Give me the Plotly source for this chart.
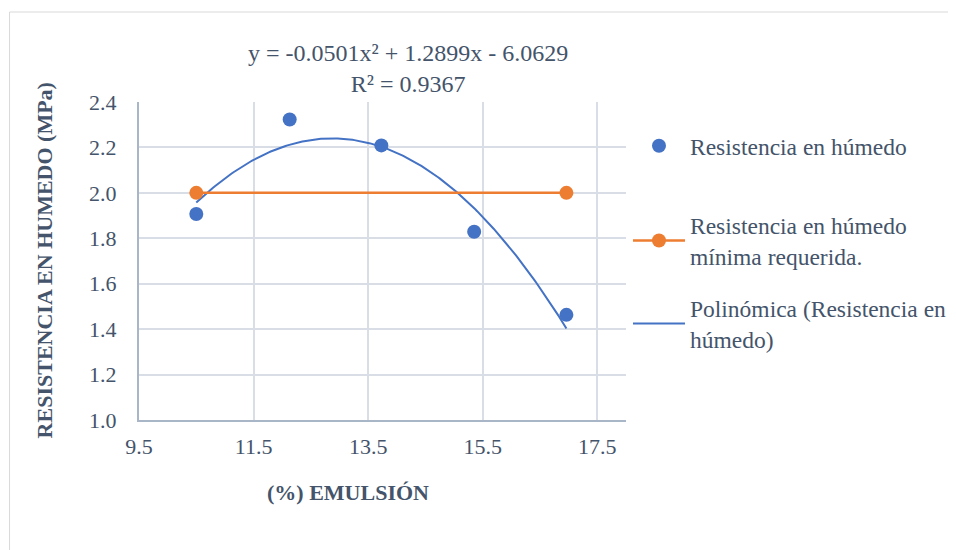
import numpy as np
import plotly.graph_objects as go

# ---- data ----
emulsion = [10.5, 12.13, 13.73, 15.35, 16.96]
resistencia = [1.907, 2.323, 2.209, 1.829, 1.463]
req_x = [10.5, 16.96]
req_y = [2.0, 2.0]
poly_coef = [-0.0501, 1.2899, -6.0629]  # displayed trendline coefficients
x_ticks = [9.5, 11.5, 13.5, 15.5, 17.5]
y_ticks = [1.0, 1.2, 1.4, 1.6, 1.8, 2.0, 2.2, 2.4]

BLUE = "#4472C4"
ORANGE = "#ED7D31"
TXT = "#44546A"
FONT = "Liberation Serif"

OFF = 8  # page body margin
W, H = 956, 550
L, T = 139 - OFF, 102 - OFF
R = W - (628 - OFF)
B = H - (420 - OFF)
pw, ph = W - L - R, H - T - B

def px(xp):
    return (xp - OFF - L) / pw

def py(yp):
    return (H - B - (yp - OFF)) / ph

xs = np.linspace(emulsion[0], emulsion[-1], 200)
ys = np.polyval(poly_coef, xs)

fig = go.Figure()
fig.add_trace(go.Scatter(x=xs, y=ys, mode="lines", line=dict(color=BLUE, width=2),
                         name="Polinómica (Resistencia en<br>húmedo)", legend="legend3"))
fig.add_trace(go.Scatter(x=req_x, y=req_y, mode="lines+markers",
                         line=dict(color=ORANGE, width=2.5),
                         marker=dict(color=ORANGE, size=14),
                         name="Resistencia en húmedo<br>mínima requerida.", legend="legend2"))
fig.add_trace(go.Scatter(x=emulsion, y=resistencia, mode="markers",
                         marker=dict(color=BLUE, size=14),
                         name="Resistencia en húmedo", legend="legend"))

legend_common = dict(font=dict(family=FONT, size=23.5, color=TXT), bgcolor="rgba(0,0,0,0)",
                     xanchor="left", yanchor="middle", itemwidth=52)
fig.update_layout(
    width=W, height=H,
    margin=dict(l=L, r=R, t=T, b=B),
    paper_bgcolor="white", plot_bgcolor="white",
    font=dict(family=FONT, color=TXT),
    showlegend=True,
    legend=dict(x=px(630), y=py(146), **legend_common),
    legend2=dict(x=px(630), y=py(241), **legend_common),
    legend3=dict(x=px(630), y=py(324), **legend_common),
    xaxis=dict(range=[9.5, 18.0], tickvals=x_ticks, ticktext=[f"{v:.1f}" for v in x_ticks],
               showgrid=True, gridcolor="#D9DEE6", gridwidth=1.5,
               showline=True, linecolor="#A9B6C8", linewidth=2,
               zeroline=False, ticks="", ticklabelstandoff=6,
               tickfont=dict(family=FONT, size=22, color=TXT)),
    yaxis=dict(range=[1.0, 2.4], tickvals=y_ticks, ticktext=[f"{v:.1f}" for v in y_ticks],
               showgrid=True, gridcolor="#D9DEE6", gridwidth=1.5,
               showline=True, linecolor="#A9B6C8", linewidth=2,
               zeroline=False, ticks="", ticklabelstandoff=16,
               tickfont=dict(family=FONT, size=22, color=TXT)),
    annotations=[
        dict(text="y = -0.0501x² + 1.2899x - 6.0629<br>R² = 0.9367",
             x=px(409), y=py(69), xref="paper", yref="paper", showarrow=False,
             xanchor="center", yanchor="middle",
             font=dict(family=FONT, size=24, color=TXT)),
        dict(text="<b>(%) EMULSIÓN</b>", x=px(349), y=py(492), xref="paper", yref="paper",
             showarrow=False, xanchor="center", yanchor="middle",
             font=dict(family=FONT, size=22, color=TXT)),
        dict(text="<b>RESISTENCIA EN HUMEDO (MPa)</b>", x=px(44), y=py(260),
             xref="paper", yref="paper", showarrow=False, textangle=-90,
             xanchor="center", yanchor="middle",
             font=dict(family=FONT, size=22, color=TXT)),
    ],
    shapes=[dict(type="rect", xref="paper", yref="paper",
                 x0=px(9), x1=px(985), y0=py(590), y1=py(12),
                 line=dict(color="#D9D9D9", width=1), fillcolor="rgba(0,0,0,0)", layer="below")],
)

fig.write_html("out.html")
